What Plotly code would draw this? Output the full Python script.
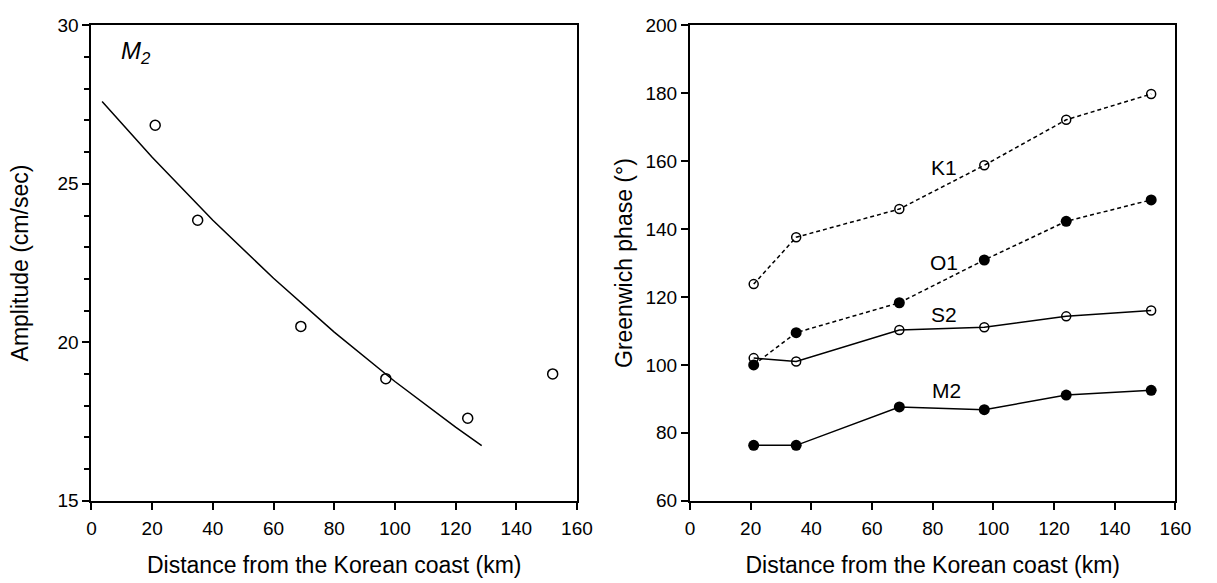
import plotly.graph_objects as go

# ---- data ----
distance_km = [21, 35, 69, 97, 124, 152]

amp_m2 = [26.85, 23.85, 20.5, 18.85, 17.6, 19.0]
fit_x = [3.5, 20, 40, 60, 80, 100, 120, 128.6]
fit_y = [27.6, 25.84, 23.85, 22.02, 20.32, 18.76, 17.32, 16.74]

phase_k1 = [123.8, 137.6, 145.9, 158.8, 172.2, 179.8]
phase_o1 = [100.0, 109.5, 118.3, 130.9, 142.3, 148.6]
phase_s2 = [102.0, 101.0, 110.3, 111.1, 114.3, 116.0]
phase_m2 = [76.3, 76.3, 87.6, 86.8, 91.1, 92.5]

x_ticks = [0, 20, 40, 60, 80, 100, 120, 140, 160]
amp_ticks = [15, 20, 25, 30]
phase_ticks = [60, 80, 100, 120, 140, 160, 180, 200]

W, H = 1217, 583
FONT = "Liberation Sans, Arial, Helvetica, sans-serif"

fig = go.Figure()

open_marker = dict(symbol="circle-open", size=9, color="black", line=dict(width=1.5, color="black"))
fill_marker = dict(symbol="circle", size=11, color="black")
dash_style = "4px,3px"

# left panel
fig.add_trace(go.Scatter(x=fit_x, y=fit_y, mode="lines", line=dict(color="black", width=1.5),
                         xaxis="x", yaxis="y", showlegend=False))
fig.add_trace(go.Scatter(x=distance_km, y=amp_m2, mode="markers", marker=dict(open_marker, size=10),
                         xaxis="x", yaxis="y", showlegend=False))

# right panel
fig.add_trace(go.Scatter(x=distance_km, y=phase_k1, mode="lines+markers",
                         line=dict(color="black", width=1.5, dash=dash_style), marker=open_marker,
                         xaxis="x2", yaxis="y2", showlegend=False))
fig.add_trace(go.Scatter(x=distance_km, y=phase_o1, mode="lines+markers",
                         line=dict(color="black", width=1.5, dash=dash_style), marker=fill_marker,
                         xaxis="x2", yaxis="y2", showlegend=False))
fig.add_trace(go.Scatter(x=distance_km, y=phase_s2, mode="lines+markers",
                         line=dict(color="black", width=1.5), marker=open_marker,
                         xaxis="x2", yaxis="y2", showlegend=False))
fig.add_trace(go.Scatter(x=distance_km, y=phase_m2, mode="lines+markers",
                         line=dict(color="black", width=1.5), marker=fill_marker,
                         xaxis="x2", yaxis="y2", showlegend=False))

xl0, xl1 = 88 / W, 582 / W
xr0, xr1 = 697 / W, 1191 / W
yb, yt = 1 - 509 / H, 1 - 16 / H

common_axis = dict(showgrid=False, zeroline=False, showline=True, linecolor="black", linewidth=2,
                   ticks="outside", ticklen=7, tickwidth=1.5, tickcolor="black",
                   tickfont=dict(family=FONT, size=19, color="black"))

title_font = dict(family=FONT, size=23, color="black")
label_font = dict(family=FONT, size=21, color="black")

fig.update_layout(
    width=W, height=H,
    margin=dict(l=0, r=0, t=0, b=0),
    paper_bgcolor="white", plot_bgcolor="white",
    font=dict(family=FONT, color="black"),
    xaxis=dict(common_axis, domain=[xl0, xl1], range=[0, 160], tickvals=x_ticks, mirror=True,
               anchor="y", ticklabelstandoff=3,
               title=dict(text="Distance from the Korean coast (km)", font=title_font, standoff=18)),
    yaxis=dict(common_axis, domain=[yb, yt], range=[15, 30], tickvals=amp_ticks, mirror=True,
               anchor="x", minor=dict(dtick=1, ticks="outside", ticklen=5, tickwidth=1.5, tickcolor="black"),
               title=dict(text="Amplitude (cm/sec)", font=title_font, standoff=22)),
    xaxis2=dict(common_axis, domain=[xr0, xr1], range=[0, 160], tickvals=x_ticks, mirror=True,
                anchor="y2", ticklabelstandoff=3,
                title=dict(text="Distance from the Korean coast (km)", font=title_font, standoff=18)),
    yaxis2=dict(common_axis, domain=[yb, yt], range=[60, 200], tickvals=phase_ticks, mirror=True,
                anchor="x2", title=dict(text="Greenwich phase (°)", font=title_font, standoff=6)),
    annotations=[
        dict(text="<i>M<sub>2</sub></i>", x=14.6, y=29.15, xref="x", yref="y", showarrow=False,
             font=dict(family=FONT, size=24, color="black"), xanchor="center"),
        dict(text="K1", x=83.7, y=158, xref="x2", yref="y2", showarrow=False, font=label_font),
        dict(text="O1", x=83.7, y=130.2, xref="x2", yref="y2", showarrow=False, font=label_font),
        dict(text="S2", x=83.7, y=114.8, xref="x2", yref="y2", showarrow=False, font=label_font),
        dict(text="M2", x=84.6, y=92.4, xref="x2", yref="y2", showarrow=False, font=label_font),
    ],
)

fig.write_html("out.html", config={"displayModeBar": False},
               post_script="document.body.style.margin='0';document.body.style.overflow='hidden';")
